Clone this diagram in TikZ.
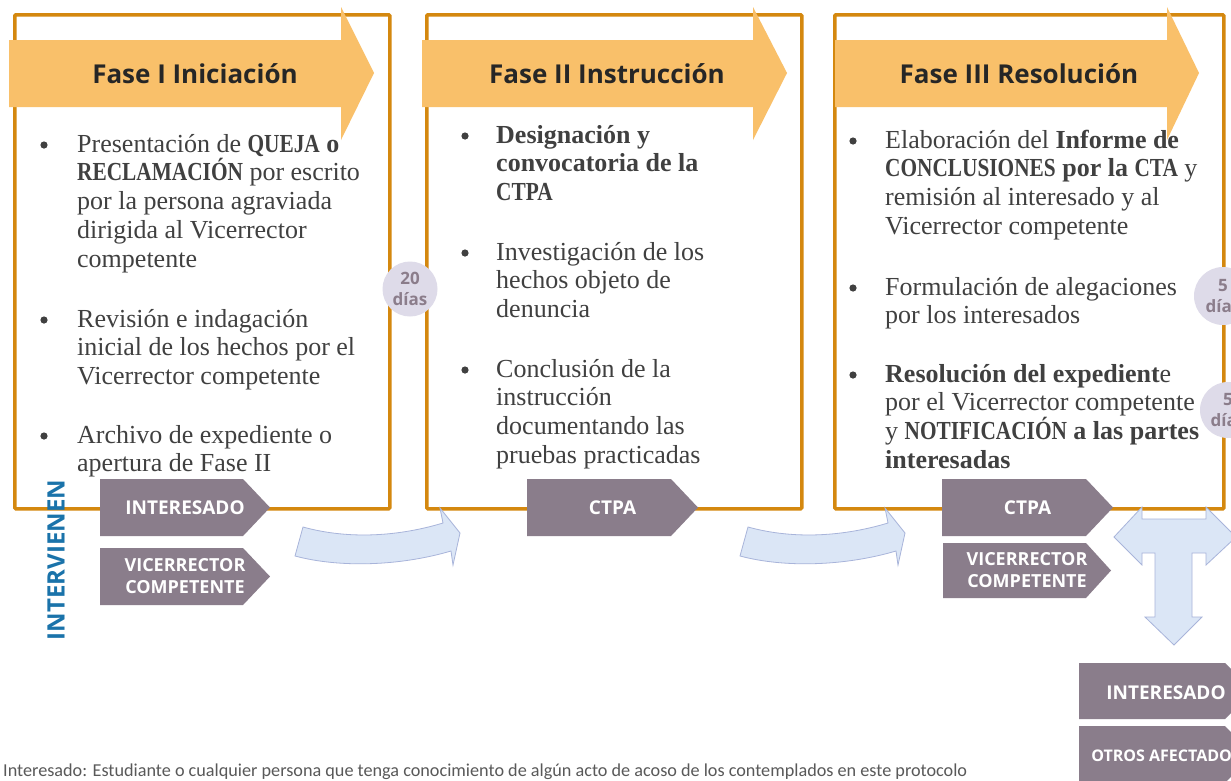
\documentclass[tikz,border=0pt]{standalone}
\usepackage{fontspec}
\setmainfont{Liberation Serif}
\newfontfamily\headfont{Open Sans}
\newfontface\bcaps{Liberation Serif Bold}[FakeStretch=0.82]
\newfontfamily\notefont{Carlito}
\newcommand{\bc}[1]{{\bcaps #1}}
\definecolor{boxorange}{RGB}{212,136,15}
\definecolor{arroworange}{RGB}{249,192,106}
\definecolor{labpurple}{RGB}{138,125,139}
\definecolor{circfill}{RGB}{222,219,233}
\definecolor{circtext}{RGB}{139,125,139}
\definecolor{bluefill}{RGB}{219,230,246}
\definecolor{blueline}{RGB}{168,180,218}
\definecolor{intblue}{RGB}{26,115,170}
\definecolor{bodytext}{RGB}{64,64,64}
\definecolor{headtext}{RGB}{38,38,38}
\definecolor{notegray}{RGB}{89,89,89}
\newcommand{\chevron}[6]{%
  \fill[labpurple] (#2,#3) -- (#4,#3) -- (#6,{(#3+#5)/2}) -- (#4,#5) -- (#2,#5) -- cycle;
  \coordinate (#1) at ({(#2+#6)/2},{(#3+#5)/2});}
\tikzset{
  phasebox/.style={draw=boxorange, line width=3.5pt, fill=white, rounded corners=1pt},
  headarrow/.style={fill=arroworange},
  headtext/.style={font=\headfont\bfseries\fontsize{26}{30}\selectfont, text=headtext, inner sep=0pt, anchor=base},
  itemtext/.style={font=\fontsize{26}{28.8}\selectfont, text=bodytext, align=left, inner sep=0pt, anchor=base west},
  bulletdot/.style={fill=bodytext},
  daycircle/.style={circle, fill=circfill, inner sep=0pt, align=center, text=circtext,
     font=\headfont\bfseries\fontsize{17}{21}\selectfont},
  labtext/.style={text=white, align=center, inner sep=0pt, font=\headfont\bfseries\fontsize{19}{22}\selectfont},
  bluearrow/.style={fill=bluefill, draw=blueline, line width=0.8pt, line join=miter}
}
\begin{document}
\begin{tikzpicture}[x=1pt,y=-1pt]
\useasboundingbox (0,0) rectangle (1231,780);
\clip (0,0) rectangle (1231,780);
\fill[white] (0,0) rectangle (1231,780);
% phase boxes
\node[phasebox, anchor=north west, minimum width=375pt, minimum height=494pt] (box1) at (13,13) {};
\node[phasebox, anchor=north west, minimum width=375pt, minimum height=494pt] (box2) at (425,13) {};
\node[phasebox, anchor=north west, minimum width=389pt, minimum height=494pt] (box3) at (833,13) {};
% heading arrows
\fill[headarrow] (9,40) -- (341,40) -- (341,7) -- (374,73) -- (341,140) -- (341,107) -- (9,107) -- cycle;
\fill[headarrow] (422,40) -- (753,40) -- (753,7) -- (787,73) -- (753,140) -- (753,107) -- (422,107) -- cycle;
\fill[headarrow] (835,40) -- (1167,40) -- (1167,7) -- (1199,73) -- (1167,140) -- (1167,107) -- (835,107) -- cycle;
\node[headtext] (h1) at (195,83) {Fase I Iniciación};
\node[headtext] (h2) at (607,83) {Fase II Instrucción};
\node[headtext] (h3) at (1019,83) {Fase III Resolución};
% box 1 items (anchor = baseline of last line)
\fill[bulletdot] (44,145) circle (3.6);
\fill[bulletdot] (44,320) circle (3.6);
\fill[bulletdot] (44,436) circle (3.6);
\node[itemtext] (t1a) at (77,267.2) {Presentación de \bc{QUEJA} \textbf{o}\\\bc{RECLAMACIÓN} por escrito\\por la persona agraviada\\dirigida al Vicerrector\\competente};
\node[itemtext] (t1b) at (77,384.6) {Revisión e indagación\\inicial de los hechos por el\\Vicerrector competente};
\node[itemtext] (t1c) at (77,471.8) {Archivo de expediente o\\apertura de Fase II};
% box 2 items
\fill[bulletdot] (465,136) circle (3.6);
\fill[bulletdot] (465,253) circle (3.6);
\fill[bulletdot] (465,370) circle (3.6);
\node[itemtext] (t2a) at (496,200.6) {\textbf{Designación y}\\\textbf{convocatoria de la}\\\bc{CTPA}};
\node[itemtext] (t2b) at (496,317.6) {Investigación de los\\hechos objeto de\\denuncia};
\node[itemtext] (t2c) at (496,463.4) {Conclusión de la\\instrucción\\documentando las\\pruebas practicadas};
% box 3 items
\fill[bulletdot] (853,141) circle (3.6);
\fill[bulletdot] (853,288) circle (3.6);
\fill[bulletdot] (853,375) circle (3.6);
\node[itemtext] (t3a) at (885,234.4) {Elaboración del \textbf{Informe de}\\\bc{CONCLUSIONES} \textbf{por la} \bc{CTA} y\\remisión al interesado y al\\Vicerrector competente};
\node[itemtext] (t3b) at (885,323.8) {Formulación de alegaciones\\por los interesados};
\node[itemtext] (t3c) at (885,468.4) {\textbf{Resolución del expedient}e\\por el Vicerrector competente\\y \bc{NOTIFICACIÓN} \textbf{a las partes}\\\textbf{interesadas}};
% day circles
\node[daycircle, minimum size=55pt] (d1) at (410,289) {20\\días};
\node[daycircle, minimum size=58pt] (d2) at (1223,296) {5\\días};
\node[daycircle, minimum size=56pt] (d3) at (1228,410) {5\\días};
% purple chevrons
\chevron{c1}{100}{479}{243}{536}{270}
\chevron{c2}{100}{548}{243}{605}{270}
\chevron{c3}{527}{479}{671}{536}{698}
\chevron{c4}{942}{479}{1086}{536}{1113}
\chevron{c5}{943}{543}{1086}{598}{1111}
\chevron{c6}{1079}{663}{1225}{719}{1253}
\chevron{c7}{1079}{726}{1225}{783}{1253}
\node[labtext] (l1) at (c1) {INTERESADO};
\node[labtext, font=\headfont\bfseries\fontsize{18}{22}\selectfont] (l2) at (c2) {VICERRECTOR\\COMPETENTE};
\node[labtext] (l3) at (c3) {CTPA};
\node[labtext] (l4) at (c4) {CTPA};
\node[labtext, font=\headfont\bfseries\fontsize{18}{22}\selectfont] (l5) at (c5) {VICERRECTOR\\COMPETENTE};
\node[labtext] (l6) at ([yshift=-2pt]c6) {INTERESADO};
\node[labtext, font=\headfont\bfseries\fontsize{16}{20}\selectfont] (l7) at ([yshift=-1pt]c7) {OTROS AFECTADOS};
% intervienen
\node[rotate=90, inner sep=0pt, text=intblue, font=\headfont\bfseries\fontsize{24}{24}\selectfont] (interv) at (56,560) {INTERVIENEN};
% blue curved arrows
\filldraw[bluearrow] (303,527) .. controls (350,540) and (400,536) .. (443,523) -- (440,508) -- (460,533) -- (453,565) -- (451,551) .. controls (400,566) and (340,568) .. (295,556) -- cycle;
\begin{scope}[xshift=445pt]
\filldraw[bluearrow] (303,527) .. controls (350,540) and (400,536) .. (443,523) -- (440,508) -- (460,533) -- (453,565) -- (451,551) .. controls (400,566) and (340,568) .. (295,556) -- cycle;
\end{scope}
% T arrow
\filldraw[bluearrow] (1114,537) -- (1142,507) -- (1142,519) -- (1206,519) -- (1206,507) -- (1236,537) -- (1206,565) -- (1206,553) -- (1192,553) -- (1192,617) -- (1202,617) -- (1174,645) -- (1145,617) -- (1155,617) -- (1155,553) -- (1142,553) -- (1142,565) -- cycle;
% footnote
\node[anchor=base west, inner sep=0pt, text=notegray, font=\notefont\fontsize{18.2}{18.2}\selectfont] (note) at (3,776) {Interesado: Estudiante o cualquier persona que tenga conocimiento de algún acto de acoso de los contemplados en este protocolo};
\end{tikzpicture}
\end{document}
